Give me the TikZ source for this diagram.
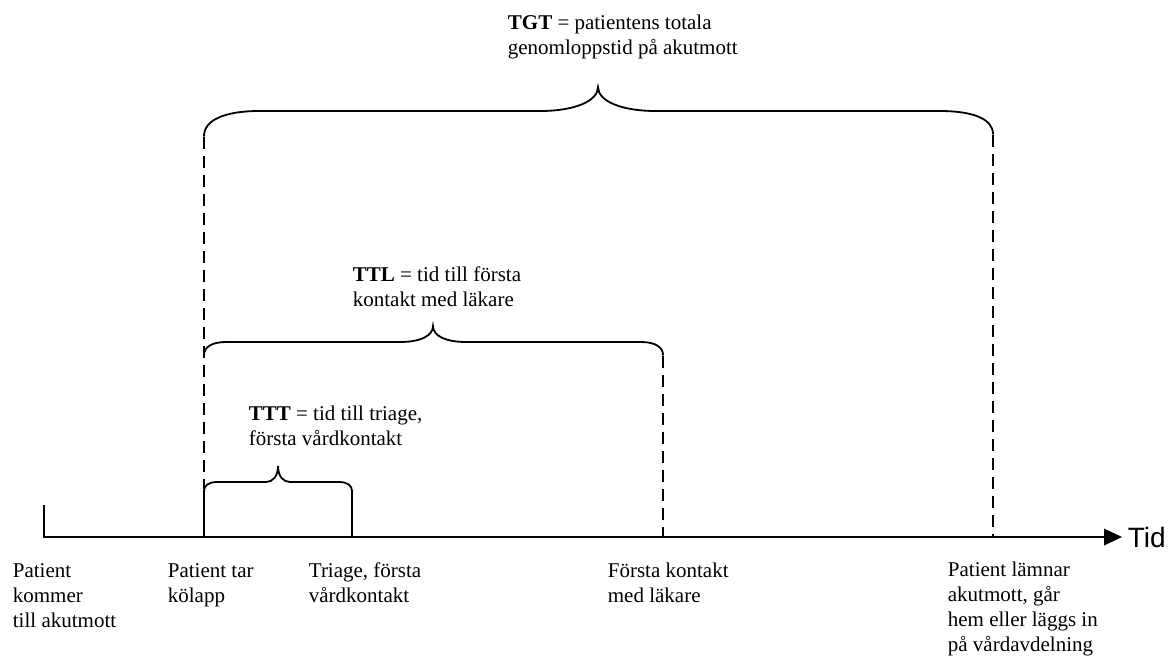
\documentclass[tikz,border=0pt]{standalone}
\usepackage{fontspec}
\setmainfont{Liberation Serif}
\newfontfamily\arialfont{Liberation Sans}
\usetikzlibrary{arrows.meta}
\begin{document}
\begin{tikzpicture}[x=1pt,y=-1pt,
  line width=1.8pt,
  lbl/.style={anchor=base west,inner sep=0pt,align=left,font=\fontsize{21}{25}\selectfont},
  bracepath/.style={line width=1.8pt,line cap=round},
  dashline/.style={line width=1.8pt,dash pattern=on 12pt off 7pt}]
\useasboundingbox (0,0) rectangle (1174,657);
% axis points
\coordinate (start) at (44,505);
\coordinate (origin) at (44,537);
\coordinate (end) at (1122,537);
\coordinate (kolapp) at (204,537);
\coordinate (triage) at (352,537);
\coordinate (lakare) at (663,537);
\coordinate (lamnar) at (993,537);
% axis
\draw (start) -- (origin) -- (1106,537);
\fill (1104,528.5) -- (end) -- (1104,545.5) -- cycle;
\node[anchor=base west,inner sep=0pt,font=\arialfont\fontsize{28}{32}\selectfont] (tid) at (1127,547) {Tid};
% TTT brace
\draw[bracepath] (kolapp) -- (204,491) .. controls (204,486) and (208,482) .. (217,482) -- (266,482) .. controls (273,482) and (278,476) .. (278,466) .. controls (278,476) and (283,482) .. (290,482) -- (339,482) .. controls (348,482) and (352,486) .. (352,491) -- (triage);
% TTL brace
\draw[bracepath] (204,355) .. controls (204,347) and (212,342) .. (226,342) -- (400,342) .. controls (420,342) and (433,336) .. (433,326) .. controls (433,336) and (446,342) .. (466,342) -- (641,342) .. controls (655,342) and (663,347) .. (663,355);
% TGT brace
\draw[bracepath] (204,136) .. controls (204,120) and (225,111) .. (259,111) -- (540,111) .. controls (575,111) and (598,101) .. (598,87) .. controls (598,101) and (621,111) .. (656,111) -- (940,111) .. controls (973,111) and (993,119) .. (993,134);
% dashed lines
\draw[dashline] (204,137) -- (204,489);
\draw[dashline] (663,356) -- (lakare);
\draw[dashline] (993,135) -- (lamnar);
% labels (base anchor = baseline of last line)
\node[lbl] (tgt) at (507,54) {\textbf{TGT} = patientens totala\\genomloppstid på akutmott};
\node[lbl] (ttl) at (352,306) {\textbf{TTL} = tid till första\\kontakt med läkare};
\node[lbl] (ttt) at (248,445) {\textbf{TTT} = tid till triage,\\första vårdkontakt};
\node[lbl] (p1) at (12,627) {Patient\\kommer\\till akutmott};
\node[lbl] (p2) at (167,602) {Patient tar\\kölapp};
\node[lbl] (p3) at (308,602) {Triage, första\\vårdkontakt};
\node[lbl] (p4) at (607,602) {Första kontakt\\med läkare};
\node[lbl] (p5) at (947,651) {Patient lämnar\\akutmott, går\\hem eller läggs in\\på vårdavdelning};
\end{tikzpicture}
\end{document}
